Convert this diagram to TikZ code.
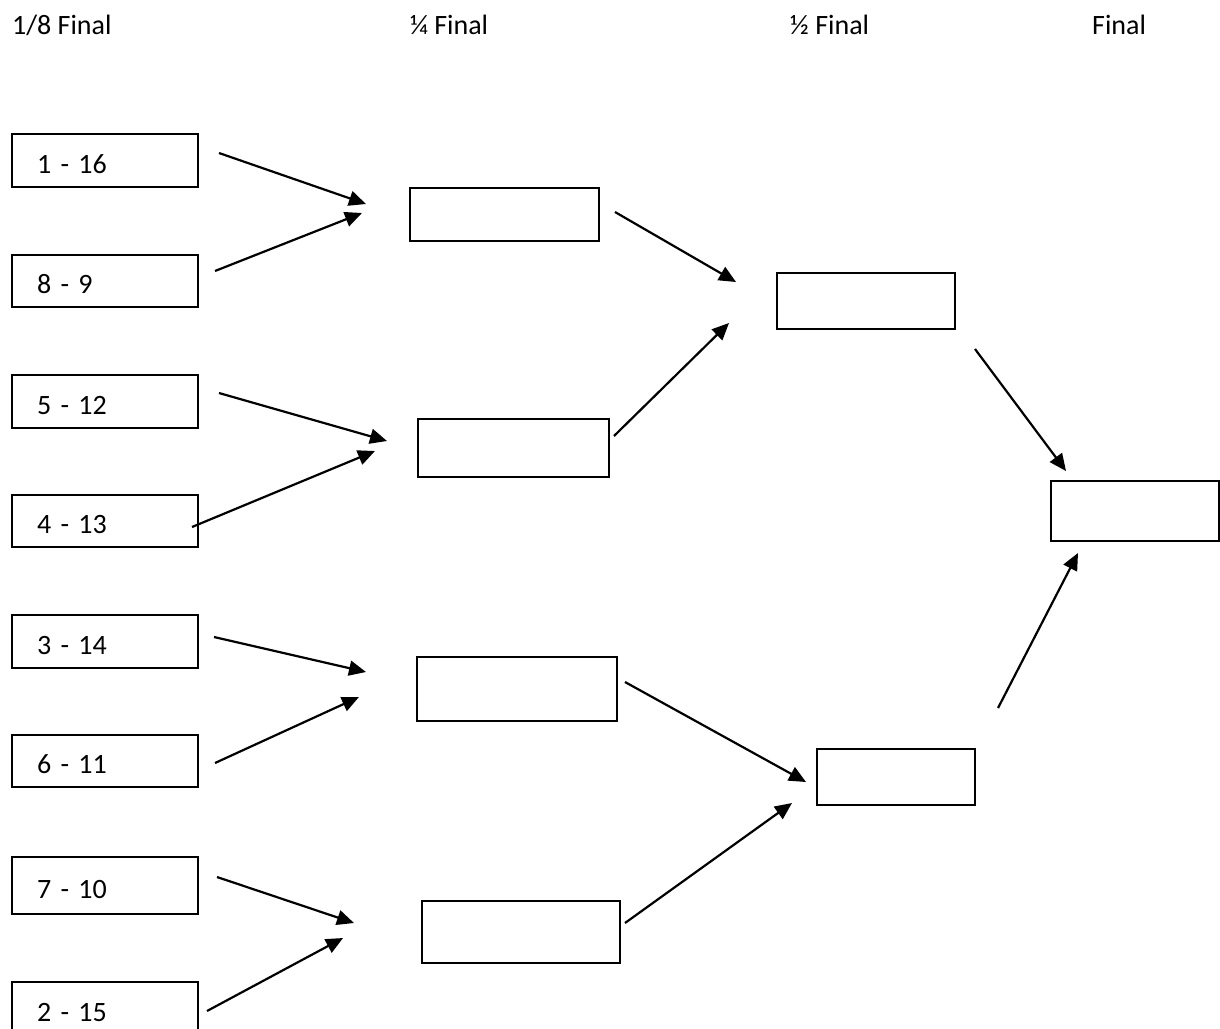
\documentclass[tikz,border=0pt]{standalone}
\usepackage{fontspec}
\setmainfont{Carlito}
\usetikzlibrary{arrows.meta}
\begin{document}
\begin{tikzpicture}[x=1pt,y=-1pt,
  seedbox/.style={draw, line width=2pt, anchor=north west, inner xsep=25pt, inner ysep=0pt,
    align=left, text width=136pt, text height=25pt, text depth=0pt, font=\fontsize{28}{33}\selectfont},
  slot/.style={draw, line width=2pt, anchor=north west, inner sep=0pt},
  hdr/.style={anchor=base west, inner sep=0pt, font=\fontsize{28}{33}\selectfont},
  arr/.style={line width=2.2pt, -{Triangle[length=17pt,width=15pt]}}]
\useasboundingbox (0,0) rectangle (1220,1028);
\clip (0,0) rectangle (1220,1028);
% headers
\node[hdr] (h1) at (12,34) {1/8 Final};
\node[hdr] (h2) at (410,34) {¼ Final};
\node[hdr] (h3) at (790,34) {½ Final};
\node[hdr] (h4) at (1092,34) {Final};
% round of 16
\node[seedbox, minimum height=53pt] (s1) at (11,133) {1 - 16};
\node[seedbox, minimum height=52pt] (s2) at (11,254) {8 - 9};
\node[seedbox, minimum height=53pt] (s3) at (11,374) {5 - 12};
\node[seedbox, minimum height=52pt] (s4) at (11,494) {4 - 13};
\node[seedbox, minimum height=53pt] (s5) at (11,614) {3 - 14};
\node[seedbox, minimum height=52pt] (s6) at (11,734) {6 - 11};
\node[seedbox, minimum height=57pt] (s7) at (11,856) {7 - 10};
\node[seedbox, minimum height=60pt, text height=19pt] (s8) at (11,981) {2 - 15};
% quarter finals
\node[slot, minimum width=189pt, minimum height=53pt] (q1) at (409,187) {};
\node[slot, minimum width=191pt, minimum height=58pt] (q2) at (417,418) {};
\node[slot, minimum width=200pt, minimum height=64pt] (q3) at (416,656) {};
\node[slot, minimum width=198pt, minimum height=62pt] (q4) at (421,900) {};
% semi finals
\node[slot, minimum width=178pt, minimum height=56pt] (f1) at (776,272) {};
\node[slot, minimum width=158pt, minimum height=56pt] (f2) at (816,748) {};
% final
\node[slot, minimum width=168pt, minimum height=60pt] (fin) at (1050,480) {};
% connector ends
\coordinate (a1s) at (219,153);  \coordinate (a1e) at (366,204);
\coordinate (a2s) at (215,271);  \coordinate (a2e) at (362,213);
\coordinate (a3s) at (219,393);  \coordinate (a3e) at (387,441);
\coordinate (a4s) at (192,527);  \coordinate (a4e) at (375,451);
\coordinate (a5s) at (214,637);  \coordinate (a5e) at (366,672);
\coordinate (a6s) at (215,763);  \coordinate (a6e) at (359,697);
\coordinate (a7s) at (217,877);  \coordinate (a7e) at (354,923);
\coordinate (a8s) at (207,1011); \coordinate (a8e) at (343,938);
\coordinate (b1s) at (615,212);  \coordinate (b1e) at (736,282);
\coordinate (b2s) at (614,436);  \coordinate (b2e) at (729,323);
\coordinate (b3s) at (625,682);  \coordinate (b3e) at (806,782);
\coordinate (b4s) at (625,923);  \coordinate (b4e) at (792,803);
\coordinate (c1s) at (975,349);  \coordinate (c1e) at (1066,471);
\coordinate (c2s) at (998,708);  \coordinate (c2e) at (1078,553);
% arrows
\foreach \n in {a1,a2,a3,a4,a5,a6,a7,a8,b1,b2,b3,b4,c1,c2}
  \draw[arr] (\n s) -- (\n e);
\end{tikzpicture}
\end{document}
